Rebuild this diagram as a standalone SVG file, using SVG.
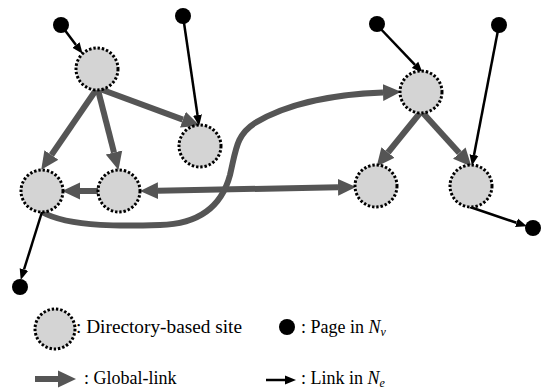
<svg xmlns="http://www.w3.org/2000/svg" width="547" height="392" viewBox="0 0 547 392">
<style>
.site{fill:#d4d4d4;stroke:#000;stroke-width:3;stroke-dasharray:2.4 1.9}
.page{fill:#000}
.g{fill:none;stroke:#555;stroke-width:6}
.k{fill:none;stroke:#000;stroke-width:2.5}
.t{font-family:'Liberation Serif',serif;font-size:18px;fill:#000}
</style>
<defs>
<marker id="ga" markerUnits="userSpaceOnUse" markerWidth="18" markerHeight="18" refX="0" refY="8" viewBox="0 0 17 16" orient="auto-start-reverse"><path d="M0,0 L17,8 L0,16 z" fill="#555"/></marker>
<marker id="ka" markerUnits="userSpaceOnUse" markerWidth="11" markerHeight="10" refX="0" refY="4.5" viewBox="0 0 11 9" orient="auto"><path d="M0,0 L11,4.5 L0,9 z" fill="#000"/></marker>
</defs>
<g id="connectors">
<path class="g" d="M96,90 L51.4,155" marker-end="url(#ga)"/>
<path class="g" d="M98,90 L114,152.5" marker-end="url(#ga)"/>
<path class="g" d="M100,89 L182.9,119.6" marker-end="url(#ga)"/>
<path class="g" d="M98,191 L80,191" marker-end="url(#ga)"/>
<path class="g" d="M158,190.7 L338,187.3" marker-start="url(#ga)" marker-end="url(#ga)"/>
<path class="g" d="M420,113 L388,152.5" marker-end="url(#ga)"/>
<path class="g" d="M423,113 L459.3,153.1" marker-end="url(#ga)"/>
<path class="g" d="M42,212 C70,228 130,226 160,225 C200,224 222,205 230,175 C236,150 236,135 255,123 C290,102 340,94 383,92.5" marker-end="url(#ga)"/>
<path class="k" d="M61,25 L76,45" marker-end="url(#ka)"/>
<path class="k" d="M183,16 L197.5,115" marker-end="url(#ka)"/>
<path class="k" d="M377,25 L415,64.8" marker-end="url(#ka)"/>
<path class="k" d="M499,25 L474,155" marker-end="url(#ka)"/>
<path class="k" d="M470,207 L516.5,222.8" marker-end="url(#ka)"/>
<path class="k" d="M42,212 L24,269.5" marker-end="url(#ka)"/>
</g>
<g id="siteA"><circle class="site" cx="97" cy="69" r="21"/></g>
<g id="siteB"><circle class="site" cx="200" cy="146" r="21"/></g>
<g id="siteC"><circle class="site" cx="42" cy="191" r="21"/></g>
<g id="siteD"><circle class="site" cx="119" cy="191" r="21"/></g>
<g id="siteE"><circle class="site" cx="421" cy="92" r="21"/></g>
<g id="siteF"><circle class="site" cx="376" cy="186" r="21"/></g>
<g id="siteG"><circle class="site" cx="471" cy="186" r="21"/></g>
<g id="page1"><circle class="page" cx="61" cy="25" r="8"/></g>
<g id="page2"><circle class="page" cx="183" cy="16" r="8"/></g>
<g id="page3"><circle class="page" cx="377" cy="24" r="8"/></g>
<g id="page4"><circle class="page" cx="499" cy="25" r="8"/></g>
<g id="page5"><circle class="page" cx="533" cy="228" r="8"/></g>
<g id="page6"><circle class="page" cx="20" cy="287" r="8"/></g>
<g id="legend">
<circle class="site" cx="55" cy="329" r="20"/>
<text class="t" font-family="Liberation Serif, serif" x="76" y="333" textLength="166" lengthAdjust="spacingAndGlyphs">: Directory-based site</text>
<circle class="page" cx="287" cy="327" r="8"/>
<text class="t" font-family="Liberation Serif, serif" x="301" y="333">: Page in <tspan font-style="italic">N</tspan><tspan font-style="italic" font-size="12" dy="3">v</tspan></text>
<path class="g" d="M35,379 L58,379" marker-end="url(#ga)"/>
<text class="t" font-family="Liberation Serif, serif" x="84" y="384">: Global-link</text>
<path class="k" d="M266,380 L285,380" marker-end="url(#ka)"/>
<text class="t" font-family="Liberation Serif, serif" x="301" y="384">: Link in <tspan font-style="italic">N</tspan><tspan font-style="italic" font-size="12" dy="3">e</tspan></text>
</g>
</svg>
